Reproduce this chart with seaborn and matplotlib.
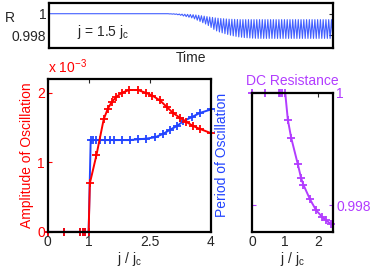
import numpy as np
import matplotlib
matplotlib.use("Agg")
import matplotlib.pyplot as plt
import seaborn as sns

# --- top panel: R(t) at j = 1.5 jc, peaks and troughs of each oscillation cycle
r_flat = 1.0
r_peaks = [1.00000, 0.99999, 0.99999, 0.99998, 0.99997, 0.99996, 0.99995, 0.99994,
           0.99993, 0.99991, 0.99988, 0.99985, 0.99981, 0.99977, 0.99973, 0.99969,
           0.99965, 0.99961, 0.99958, 0.99955, 0.99953, 0.99951, 0.99949, 0.99948,
           0.99947, 0.99946] + [0.99945] * 34
r_troughs = [0.99998, 0.99996, 0.99994, 0.99990, 0.99985, 0.99979, 0.99973, 0.99967,
             0.99961, 0.99952, 0.99940, 0.99928, 0.99916, 0.99904, 0.99890, 0.99872,
             0.99854, 0.99840, 0.99830, 0.99822, 0.99814, 0.99807, 0.99800, 0.99794,
             0.99789, 0.99784, 0.99781, 0.99778, 0.99776, 0.99774, 0.99772,
             0.99771] + [0.99770] * 28

# --- amplitude (x 1e-3) and period vs j/jc
amp_j = [0, 0.4, 0.8, 0.85, 0.9, 1.0, 1.03, 1.19, 1.37, 1.47, 1.57, 1.68, 1.81, 2.0,
         2.2, 2.4, 2.56, 2.75, 2.91, 3.07, 3.24, 3.4, 3.57, 3.73, 4.0]
amp = [0, 0, 0, 0, 0, 0, 0.70, 1.10, 1.62, 1.77, 1.87, 1.94, 2.0, 2.04,
       2.04, 2.0, 1.96, 1.89, 1.80, 1.71, 1.64, 1.58, 1.52, 1.48, 1.42]

per_j = [0, 0.4, 0.8, 0.85, 0.9, 1.0, 1.05, 1.1, 1.19, 1.29, 1.4, 1.52, 1.63, 1.81,
         2.01, 2.2, 2.4, 2.63, 2.83, 3.0, 3.16, 3.32, 3.53, 3.73, 4.0]
per = [0, 0, 0, 0, 0, 0, 1.32, 1.32, 1.32, 1.32, 1.32, 1.32, 1.32, 1.32,
       1.32, 1.33, 1.34, 1.36, 1.41, 1.47, 1.52, 1.59, 1.65, 1.71, 1.76]

# --- DC resistance vs j/jc
dc_j = [0, 0.4, 0.8, 0.85, 0.9, 1.0, 1.08, 1.18, 1.38, 1.48, 1.55, 1.75, 1.93,
        2.11, 2.23, 2.38]
dc_r = [1, 1, 1, 1, 1, 1, 0.99952, 0.99920, 0.99873, 0.99848, 0.99836, 0.99810,
        0.99791, 0.99779, 0.99773, 0.99766]

RED = "#ff0000"
BLUE = "#2244ff"
PURPLE = "#b23cff"

sns.set_style("white")
plt.rcParams["font.family"] = ["Liberation Sans", "DejaVu Sans"]
plt.rcParams["font.size"] = 10
plt.rcParams["mathtext.fontset"] = "custom"
plt.rcParams["mathtext.rm"] = "Liberation Sans"
plt.rcParams["mathtext.it"] = "Liberation Sans"

MK = dict(marker="+", markersize=5.5, markeredgewidth=1.3, lw=1.4, clip_on=False)


def boxed(ax):
    for s in ax.spines.values():
        s.set_visible(True)
        s.set_color("black")
        s.set_linewidth(1.6)
    ax.tick_params(direction="in", length=3, width=0.8, pad=2)


fig = plt.figure(figsize=(3.74, 2.70), dpi=100)

# top panel
ax_t = fig.add_axes([0.131, 0.822, 0.759, 0.167])
n = len(r_peaks)
vals = [r_flat]
for hi, lo in zip(r_peaks, r_troughs):
    vals += [hi, lo]
t = np.concatenate([[0.0], np.linspace(0.42, 1.0, 2 * n)])
sns.lineplot(x=t, y=vals, ax=ax_t, color=BLUE, lw=0.8, alpha=0.85)
ax_t.set_xlim(0, 1)
ax_t.set_ylim(0.9968, 1.001)
ax_t.set_xticks([])
ax_t.set_yticks([0.998, 1.0])
ax_t.set_yticklabels(["0.998", "1"])
ax_t.set_xlabel("Time", labelpad=2)
ax_t.set_ylabel("")
boxed(ax_t)
ax_t.tick_params(right=True)
ax_t.text(0.1, 0.36, r"j = 1.5 j$_{\rm c}$", transform=ax_t.transAxes, va="center")
fig.text(0.012, 0.935, "R", va="center")

# amplitude / period panel
ax_a = fig.add_axes([0.128, 0.141, 0.436, 0.567])
sns.lineplot(x=per_j, y=per, ax=ax_a, color=BLUE, markeredgecolor=BLUE, **MK)
sns.lineplot(x=amp_j, y=amp, ax=ax_a, color=RED, markeredgecolor=RED, **MK)
ax_a.set_xlim(0, 4)
ax_a.set_ylim(0, 2.2)
ax_a.set_xticks([0, 1, 2.5, 4])
ax_a.set_xticklabels(["0", "1", "2.5", "4"])
ax_a.set_yticks([0, 1, 2])
ax_a.set_xlabel(r"j / j$_{\rm c}$", labelpad=1)
ax_a.set_ylabel("Amplitude of Oscillation", color=RED, labelpad=2)
boxed(ax_a)
ax_a.tick_params(axis="y", colors=RED, right=True)
ax_a.tick_params(axis="x", top=True)
ax_a.text(0.0, 1.02, r"x 10$^{-3}$", color=RED, transform=ax_a.transAxes,
          ha="left", va="bottom", fontsize=10)
ax_p = ax_a.twinx()
ax_p.set_ylim(0, 2.2)
ax_p.set_yticks([])
ax_p.set_ylabel("Period of Oscillation", color=BLUE, labelpad=3)
for s in ax_p.spines.values():
    s.set_visible(False)

# DC resistance panel
ax_d = fig.add_axes([0.674, 0.141, 0.217, 0.515])
sns.lineplot(x=dc_j, y=dc_r, ax=ax_d, color=PURPLE, markeredgecolor=PURPLE, **MK)
ax_d.set_xlim(0, 2.45)
ax_d.set_ylim(0.99752, 1.0)
ax_d.set_xticks([0, 1, 2])
ax_d.set_yticks([0.998, 1.0])
ax_d.set_yticklabels(["0.998", "1"])
ax_d.yaxis.tick_right()
ax_d.set_xlabel(r"j / j$_{\rm c}$", labelpad=1)
ax_d.set_ylabel("")
boxed(ax_d)
ax_d.tick_params(axis="y", colors=PURPLE, left=True, right=True)
ax_d.tick_params(axis="x", top=True)
ax_d.set_title("DC Resistance", color=PURPLE, fontsize=10, pad=6)

fig.savefig("out.png", dpi=100)
